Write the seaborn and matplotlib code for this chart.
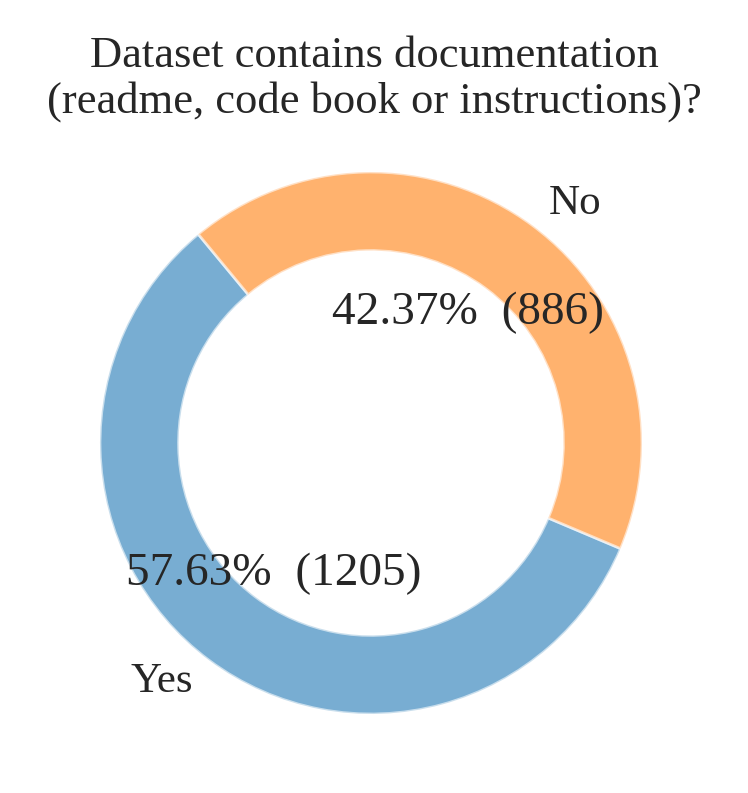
import matplotlib
matplotlib.use('Agg')
import matplotlib.pyplot as plt
import seaborn as sns

labels = ['Yes', 'No']
counts = [1205, 886]
title = 'Dataset contains documentation\n(readme, code book or instructions)?'

sns.set_style('white')
plt.rcParams['font.family'] = ['Liberation Serif', 'DejaVu Serif']

colors = sns.color_palette('tab10')[:2]
total = sum(counts)


def fmt(pct):
    n = int(round(pct * total / 100.0))
    return '{:.2f}%  ({})'.format(pct, n)


fig = plt.figure(figsize=(7.48, 7.93), dpi=100)
ax = fig.add_axes([32.25 / 748, 11.25 / 793, 677.5 / 748, 677.5 / 793])
wedges, texts, autotexts = ax.pie(
    counts, labels=labels, colors=colors, autopct=fmt, startangle=129.6,
    wedgeprops=dict(width=0.29, edgecolor='white', linewidth=2, alpha=0.6),
    textprops=dict(fontsize=31, color='#262626'))
for t in autotexts:
    t.set_fontsize(34)
ax.set_aspect('equal')
fig.text(0.5, 1 - 79 / 793, title, ha='center', va='center', fontsize=32,
         color='#262626', linespacing=1.17)

fig.savefig('out.png', dpi=100)
